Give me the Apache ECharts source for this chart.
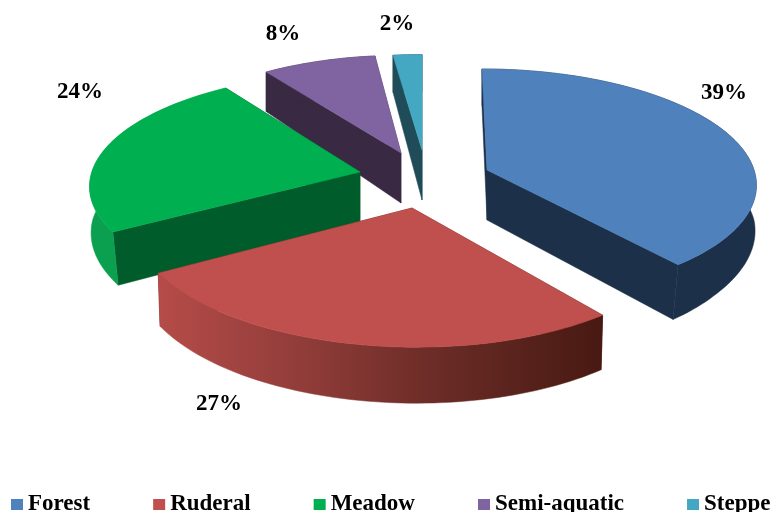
<!DOCTYPE html>
<html><head><meta charset="utf-8">
<style>html,body{margin:0;padding:0;background:#fff}#c{width:771px;height:512px}</style>
<script src="https://cdn.jsdelivr.net/npm/echarts@6/dist/echarts.min.js"></script>
</head><body><div id="c"></div>
<script>
const categories = ['Forest', 'Ruderal', 'Meadow', 'Semi-aquatic', 'Steppe'];
const shares = [39, 27, 24, 8, 2];
const tileColors = ['#4F81BD', '#C0504D', '#00B050', '#8064A2', '#45A8C3'];
const cutColors = ['#1C3149', '#5A211C', '#005C2A', '#392943', '#1F4C58'];
const drawOrder = [0, 3, 4, 2, 1];

// perspective view of each exploded slice
const views = [
  {ax:487, ay:170, R:267, e:5.6,  Rv:112.4, g:0,   k:.1125, sh:.026, lx:724, ly:93},
  {ax:412, ay:208, R:276, e:-5.7, Rv:121,   g:5,   k:.13,   sh:.008, lx:219, ly:404},
  {ax:360, ay:172, R:267, e:-13.3,Rv:110.6, g:3.3, k:.11,   sh:.024, lx:80,  ly:92},
  {ax:401, ay:153, R:254, e:-3,   Rv:108.4, g:.8,  k:.11,   sh:.008, lx:283, ly:34},
  {ax:422, ay:150, R:257, e:0,    Rv:106,   g:0,   k:.11,   sh:0,    lx:397, ly:24}
];
const total = shares.reduce((a, b) => a + b, 0);
const wallFill = [
  '#1C3149',
  {type:'linear', x:0, y:0, x2:1, y2:0, colorStops:[
    {offset:0, color:'#B54C49'}, {offset:.35, color:'#8E3B38'}, {offset:.6, color:'#6E2D28'}, {offset:1, color:'#471912'}]},
  '#0BA04F', '#392943', '#1F4C58'
];

function project(v, deg) {
  const t = deg * Math.PI / 180, X = Math.sin(t), Y = -Math.cos(t), w = 1 - v.k * Y;
  const dx = (v.R * X + v.e * Y) / w, dy = (v.Rv * Y + v.g * X) / w;
  return {x: v.ax + dx, y: v.ay + dy, dx, Y};
}
function drop(v, p) {
  const d = p.Y >= 0 ? 50 + 6 * p.Y : 50 + 13 * p.Y;
  const f = Math.min(1, Math.max(0, p.Y / .6));
  return [p.x - v.sh * p.dx * f, p.y + d];
}
function makeRender(idx) {
  return function (params, api) {
    const value = api.value(0);
    let before = 0;
    for (let i = 0; i < idx; i++) before += shares[i];
    const a0 = before / total * 360, a1 = a0 + value / total * 360;
    const v = views[idx];
    const arc = [];
    const n = Math.max(6, Math.round((a1 - a0) / 1.5));
    for (let i = 0; i <= n; i++) arc.push(project(v, a0 + (a1 - a0) * i / n));
    const top = arc.map(p => [p.x, p.y]);
    const low = arc.map(p => drop(v, p));
    const apex = [v.ax, v.ay], apexLow = [v.ax, v.ay + 50];
    const poly = (pts, fill) => ({type:'polygon', shape:{points:pts}, style:{fill, stroke:fill, lineWidth:.5}});
    return {type:'group', children:[
      poly([apex, top[0], low[0], apexLow], cutColors[idx]),
      poly([apex, top[n], low[n], apexLow], cutColors[idx]),
      poly(top.concat(low.slice().reverse()), wallFill[idx]),
      poly([apex].concat(top), tileColors[idx]),
      {type:'text', x:v.lx, y:v.ly, style:{
        text: value + '%', align:'center', verticalAlign:'middle',
        font:'bold 23px "Liberation Serif"', fill:'#000'}}
    ]};
  };
}
const chart = echarts.init(document.getElementById('c'), null, {renderer:'canvas'});
chart.setOption({
  backgroundColor:'#fff',
  animation:false,
  legend:{
    data:categories, left:11, top:493, width:760, padding:0, itemGap:63, itemWidth:12, itemHeight:11,
    icon:'rect', selectedMode:false,
    textStyle:{fontFamily:'Liberation Serif', fontWeight:'bold', fontSize:23, color:'#000'}
  },
  series: categories.map((name, i) => ({
    type:'custom', name, coordinateSystem:'none',
    z: 2 + drawOrder.indexOf(i),
    itemStyle:{color:tileColors[i]},
    data:[[shares[i]]],
    renderItem:makeRender(i),
    silent:true
  }))
});
</script></body></html>
